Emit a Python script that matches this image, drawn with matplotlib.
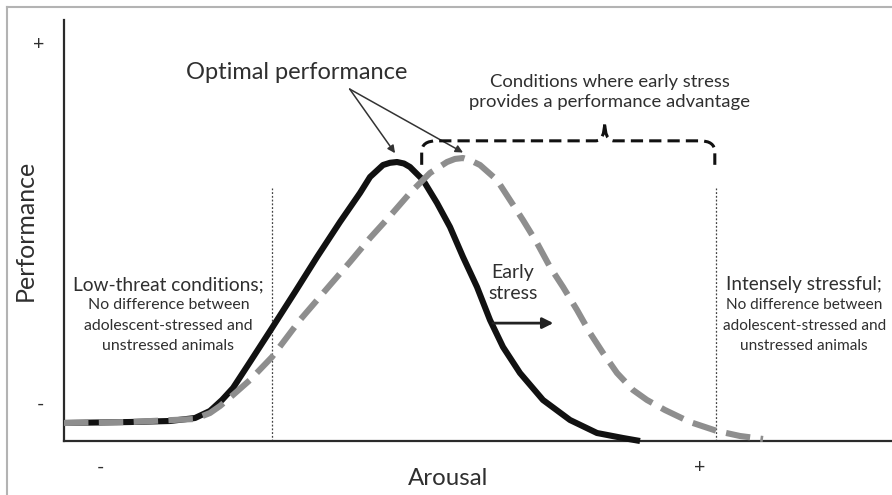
import numpy as np
import matplotlib
matplotlib.use("Agg")
import matplotlib.pyplot as plt
from matplotlib.path import Path
from matplotlib.patches import PathPatch
from matplotlib.lines import Line2D

plt.rcParams['font.family'] = ['Lato', 'DejaVu Sans']

# arousal (0-100) vs performance (0-100)
arousal_unstressed = [0, 7.97, 12.80, 15.82, 17.63, 19.08, 20.41, 22.46, 25.12, 27.90,
                      30.56, 33.33, 35.75, 36.96, 38.53, 39.37, 40.22, 41.06, 41.79,
                      43.36, 45.05, 46.62, 48.19, 49.88, 51.45, 53.02, 55.07, 57.85,
                      61.11, 64.37, 67.51, 69.57]
perf_unstressed = [4.28, 4.51, 4.75, 5.46, 7.13, 9.74, 12.59, 18.76, 26.84, 35.39,
                   43.71, 52.02, 58.91, 62.71, 65.56, 66.08, 66.27, 65.91, 65.08,
                   62.00, 56.53, 50.83, 43.71, 36.58, 28.74, 22.33, 16.15, 9.74,
                   4.99, 1.90, 0.71, 0.0]

arousal_stressed = [0, 7.97, 15.82, 17.63, 18.84, 20.41, 22.46, 25.12, 28.50, 32.13,
                    34.54, 36.96, 39.37, 41.79, 44.20, 46.26, 47.22, 48.19, 49.15,
                    50.24, 52.29, 53.86, 55.43, 57.13, 58.70, 60.27, 61.96, 63.53,
                    65.10, 66.79, 68.72, 70.41, 72.58, 75.60, 78.86, 81.64, 84.42]
perf_stressed = [4.28, 4.51, 5.23, 6.65, 8.31, 10.93, 14.49, 19.95, 28.74, 37.05,
                 42.52, 48.22, 53.44, 58.91, 63.66, 66.27, 67.0, 67.22, 66.6,
                 65.56, 62.00, 57.24, 52.49, 47.03, 41.33, 36.58, 31.12, 25.65,
                 20.90, 16.15, 12.11, 9.74, 7.36, 4.51, 2.38, 1.19, 0.48]

zone_bounds = [25.1, 78.7]       # dotted boundaries on arousal
zone_top = 60.1
xtick_pos = [4.35, 76.8]
xtick_labels = ['-', '+']
ytick_pos = [94.5, 9.0]
ytick_labels = ['+', '-']

# brace over the "advantage" range
brace_x0, brace_x1, brace_tip = 43.2, 78.6, 65.3
brace_low, brace_line, brace_peak = 65.6, 71.3, 75.8

txt_col = '#2f2f2f'

fig = plt.figure(figsize=(8.92, 4.95), dpi=100)
ax = fig.add_axes([64/892, (495-441)/495, 828/892, 421/495])
ax.set_xlim(0, 100)
ax.set_ylim(0, 100)
for s in ['top', 'right']:
    ax.spines[s].set_visible(False)
for s in ['left', 'bottom']:
    ax.spines[s].set_linewidth(1.6)
    ax.spines[s].set_color('#2a2a2a')

ax.set_xticks(xtick_pos, xtick_labels)
ax.set_yticks(ytick_pos, ytick_labels)
ax.tick_params(axis='x', length=0, pad=13, labelsize=14, labelcolor=txt_col)
ax.tick_params(axis='y', length=0, pad=14, labelsize=14, labelcolor=txt_col)

ax.text(-0.047, 0.5, 'Performance', transform=ax.transAxes, rotation=90,
        ha='center', va='center', fontsize=18, color=txt_col)
ax.text(0.464, -0.088, 'Arousal', transform=ax.transAxes,
        ha='center', va='center', fontsize=17.3, color=txt_col)

# curves
ax.plot(arousal_unstressed, perf_unstressed, color='#111111', lw=4.4,
        solid_capstyle='butt', solid_joinstyle='round', clip_on=False, zorder=3)
ax.plot(arousal_stressed, perf_stressed, color='#8e8e8e', lw=4.4,
        dashes=(4.0, 1.7), dash_joinstyle='round', clip_on=False, zorder=4)

# zone boundaries
for xb in zone_bounds:
    ax.plot([xb, xb], [0, zone_top], color='#444444', lw=0.9, ls=(0, (1.5, 1.5)), zorder=2)

# zone captions
def caption(x, y, lines, first_size=13.8, rest_size=11.4, step=14.8):
    for i, line in enumerate(lines):
        ax.annotate(line, xy=(x, y), xytext=(0, -i*step), textcoords='offset points',
                    ha='center', va='center', color=txt_col,
                    fontsize=first_size if i == 0 else rest_size)

caption(12.6, 37.1, ['Low-threat conditions;', 'No difference between',
                     'adolescent-stressed and', 'unstressed animals'])
caption(89.4, 37.1, ['Intensely stressful;', 'No difference between',
                     'adolescent-stressed and', 'unstressed animals'],
        first_size=13.6, rest_size=11.1)
caption(54.2, 40.1, ['Early', 'stress'], first_size=14, rest_size=14, step=15.2)
caption(65.9, 85.3, ['Conditions where early stress',
                     'provides a performance advantage'], first_size=13.3,
        rest_size=13.3, step=14.6)

# optimal performance arrows
ax.text(28.1, 87.6, 'Optimal performance', ha='center', va='center',
        fontsize=17, color=txt_col)
i_u = int(np.argmax(perf_unstressed))
i_s = int(np.argmax(perf_stressed))
src = (34.5, 83.6)
for px, py, dx, dy in [(arousal_unstressed[i_u], perf_unstressed[i_u], -0.24, 2.1),
                       (arousal_stressed[i_s], perf_stressed[i_s], 0.0, 1.3)]:
    ax.annotate('', xy=(px + dx, py + dy), xytext=src,
                arrowprops=dict(arrowstyle='-|>', color='#333333', lw=1.1,
                                mutation_scale=11, shrinkA=0, shrinkB=0))

# early stress shift arrow
ax.annotate('', xy=(59.1, 28.0), xytext=(51.8, 28.0),
            arrowprops=dict(arrowstyle='-|>', color='#222222', lw=2.0,
                            mutation_scale=16, shrinkA=0, shrinkB=0))

# brace
rx, ry = 1.8, 2.6
verts = [(brace_x0, brace_low), (brace_x0, brace_line - ry),
         (brace_x0, brace_line), (brace_x0 + rx, brace_line),
         (brace_tip - 1.1, brace_line),
         (brace_tip, brace_line), (brace_tip, brace_peak),
         (brace_tip, brace_line), (brace_tip + 1.1, brace_line),
         (brace_x1 - rx, brace_line),
         (brace_x1, brace_line), (brace_x1, brace_line - ry),
         (brace_x1, brace_low)]
codes = [Path.MOVETO, Path.LINETO, Path.CURVE3, Path.CURVE3, Path.LINETO,
         Path.CURVE3, Path.CURVE3, Path.CURVE3, Path.CURVE3, Path.LINETO,
         Path.CURVE3, Path.CURVE3, Path.LINETO]
ax.add_patch(PathPatch(Path(verts, codes), fill=False, color='#111111', lw=2.2,
                       ls=(0, (4, 2)), zorder=5))

# frame lines of the scanned figure
fig.add_artist(Line2D([7/892, 1], [1 - 7/495, 1 - 7/495], color='#b3b3b3', lw=1.5))
fig.add_artist(Line2D([7/892, 7/892], [0, 1 - 7/495], color='#b3b3b3', lw=1.5))

fig.savefig('out.png', dpi=100)
